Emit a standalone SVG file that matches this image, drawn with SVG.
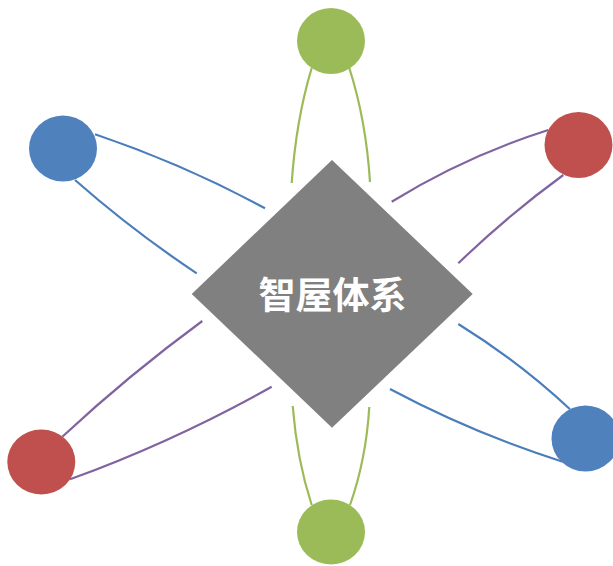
<svg xmlns="http://www.w3.org/2000/svg" width="613" height="566" viewBox="0 0 613 566">
  <style>
    .conn { fill: none; stroke-width: 2.2; stroke-linecap: butt; }
    .g { stroke: #9BBB59; }
    .b { stroke: #4A7EBB; }
    .p { stroke: #8064A2; }
    .green { fill: #9BBB59; }
    .blue { fill: #4F81BD; }
    .red { fill: #C0504D; }
    .center { fill: #808080; }
    .label { font-family: "Noto Sans CJK SC", "Noto Sans", sans-serif; font-weight: 700; font-size: 37px; fill: #FFFFFF; text-anchor: middle; }
  </style>
  <rect width="613" height="566" fill="#FFFFFF"/>
  <g id="connectors">
    <path class="conn g" d="M311.7,68 Q296,120 291.7,183"/>
    <path class="conn g" d="M349.3,68 Q366,120 370,182"/>
    <path class="conn g" d="M292.7,406 Q297,460 311.7,505"/>
    <path class="conn g" d="M369.3,407 Q366,460 350,505"/>
    <path class="conn b" d="M95,134.3 Q183,164 265,208.3"/>
    <path class="conn b" d="M75,180 Q133,231 196.7,273.3"/>
    <path class="conn p" d="M391.7,201.7 Q465.6,156.2 548.3,130"/>
    <path class="conn p" d="M458.3,263.3 Q507.7,215.5 563.3,175"/>
    <path class="conn p" d="M202.3,321 Q129,374.8 62.3,436.7"/>
    <path class="conn p" d="M271.7,386.7 Q174.6,441.2 70,479.3"/>
    <path class="conn b" d="M458.3,324 Q518.3,361.2 570,409.3"/>
    <path class="conn b" d="M390,389 Q473,433.3 562.7,461.7"/>
  </g>
  <g id="node-top"><ellipse class="green" cx="331" cy="41" rx="34" ry="33"/></g>
  <g id="node-bottom"><ellipse class="green" cx="331" cy="532" rx="34" ry="32.5"/></g>
  <g id="node-top-left"><ellipse class="blue" cx="63" cy="148.5" rx="34" ry="33"/></g>
  <g id="node-bottom-right"><ellipse class="blue" cx="585.5" cy="438.5" rx="34" ry="33"/></g>
  <g id="node-right"><ellipse class="red" cx="578.5" cy="145" rx="34" ry="33"/></g>
  <g id="node-bottom-left"><ellipse class="red" cx="41.3" cy="462" rx="34" ry="32.5"/></g>
  <g id="node-center">
    <polygon class="center" points="332,160 472.7,294 332,427.7 191.7,294"/>
    <text class="label" x="332.5" y="309">智屋体系</text>
  </g>
</svg>
